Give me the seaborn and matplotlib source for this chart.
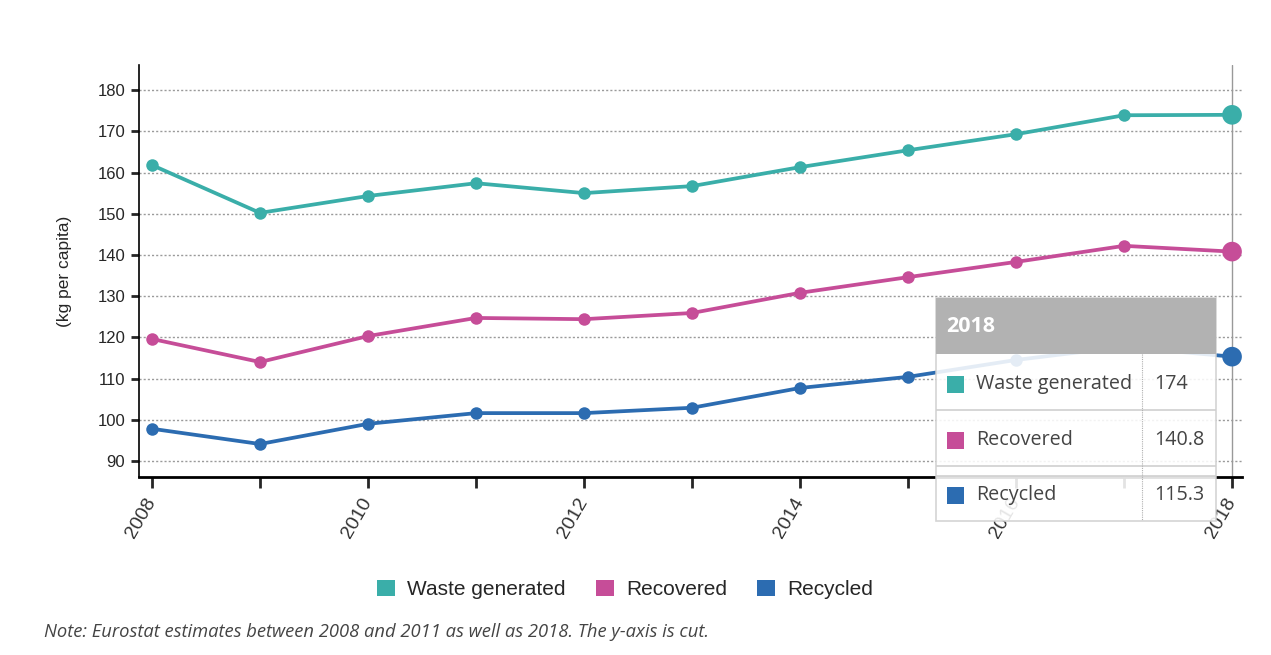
import numpy as np
import pandas as pd
import seaborn as sns
import matplotlib.pyplot as plt
from matplotlib.patches import Rectangle, Patch

# data (kg per capita)
years = [2008, 2009, 2010, 2011, 2012, 2013, 2014, 2015, 2016, 2017, 2018]
waste_generated = [161.8, 150.2, 154.3, 157.4, 155.0, 156.7, 161.3, 165.4, 169.3, 173.9, 174.0]
recovered = [119.6, 114.0, 120.3, 124.7, 124.4, 125.9, 130.8, 134.6, 138.3, 142.2, 140.8]
recycled = [97.8, 94.1, 99.0, 101.6, 101.6, 102.9, 107.7, 110.4, 114.5, 117.7, 115.3]
series_names = ["Waste generated", "Recovered", "Recycled"]
colors = ["#3aaea9", "#c64d98", "#2c6cb1"]
tooltip_values = ["174", "140.8", "115.3"]

df = pd.DataFrame({"year": years * 3,
                   "value": waste_generated + recovered + recycled,
                   "series": np.repeat(series_names, len(years))})
palette = dict(zip(series_names, colors))

sns.set_style("white")
plt.rcParams['font.family'] = ['Liberation Sans', 'DejaVu Sans']

fig = plt.figure(figsize=(12.71, 6.55), dpi=100)
ax = fig.add_axes([0.1094, 0.2718, 0.8676, 0.629])

# grid first
for v in range(90, 181, 10):
    ax.axhline(v, color="#9a9a9a", lw=1, ls=(0, (1.5, 1.5)), zorder=0)

sns.lineplot(data=df, x="year", y="value", hue="series", palette=palette,
             marker="o", markersize=9, markeredgewidth=0, linewidth=2.7,
             legend=False, ax=ax, zorder=3)

# highlighted last year
ax.axvline(2018, color="#999999", lw=1, zorder=1)
last = df[df["year"] == 2018]
sns.scatterplot(data=last, x="year", y="value", hue="series", palette=palette,
                s=200, linewidth=0, legend=False, ax=ax, zorder=4)

ax.set_xlim(2007.88, 2018.09)
ax.set_ylim(86.1, 186.1)
ax.set_yticks(range(90, 181, 10))
ax.set_xticks(years)
ax.set_xticklabels([str(y) if y % 2 == 0 else "" for y in years],
                   rotation=60, ha="right", va="center", rotation_mode="anchor")
ax.tick_params(axis="y", labelsize=12, length=6, width=2, direction="out", left=True, pad=4)
ax.tick_params(axis="x", labelsize=14, length=8, width=2, direction="out", bottom=True, pad=8,
               labelcolor="#333333")
ax.set_xlabel("")
ax.set_ylabel("(kg per capita)", fontsize=12.5, labelpad=18)
for s in ["top", "right"]:
    ax.spines[s].set_visible(False)
ax.spines["left"].set_linewidth(1.2)
ax.spines["bottom"].set_linewidth(2)
ax.spines["left"].set_color("black")
ax.spines["bottom"].set_color("black")

# legend
handles = [Patch(facecolor=c, edgecolor="none") for c in colors]
fig.legend(handles, series_names, loc="center", bbox_to_anchor=(0.492, 0.1),
           ncol=3, frameon=False, fontsize=15, handlelength=0.85, handleheight=0.85,
           columnspacing=1.45, handletextpad=0.6)

fig.text(0.035, 0.027, "Note: Eurostat estimates between 2008 and 2011 as well as 2018. The y-axis is cut.",
         fontsize=13.2, style="italic", color="#444444", family=["Open Sans", "DejaVu Sans"])

# tooltip overlay
tip = fig.add_axes([936 / 1271, 1 - 521 / 655, 280 / 1271, 223 / 655], zorder=10)
tip.set_xlim(0, 280)
tip.set_ylim(223, 0)
tip.axis("off")
tip.add_patch(Rectangle((0, 0), 280, 223, facecolor="white", alpha=0.88, edgecolor="#cfcfcf", lw=1.2,
                        clip_on=False))
tip.add_patch(Rectangle((0, 0), 280, 56, facecolor="#b2b2b2", edgecolor="none"))
tip.text(10, 29, "2018", color="white", fontsize=15.5, fontweight="bold", va="center",
         family=["Open Sans", "DejaVu Sans"])
for yl in [112, 168, 178]:
    tip.plot([0, 280], [yl, yl], color="#d0d0d0", lw=1.2)
tip.plot([206, 206], [56, 223], color="#b0b0b0", lw=0.8, ls=(0, (1, 1)))
for i, (name, c, val) in enumerate(zip(series_names, colors, tooltip_values)):
    yc = [86, 142, 197][i]
    tip.add_patch(Rectangle((11, yc - 8.5), 17, 17, facecolor=c, edgecolor="none"))
    tip.text(40, yc, name, fontsize=14.2, color="#444444", va="center",
             family=["Open Sans", "DejaVu Sans"])
    tip.text(218, yc, val, fontsize=14.2, color="#444444", va="center",
             family=["Open Sans", "DejaVu Sans"])

fig.savefig("out.png", dpi=100)
